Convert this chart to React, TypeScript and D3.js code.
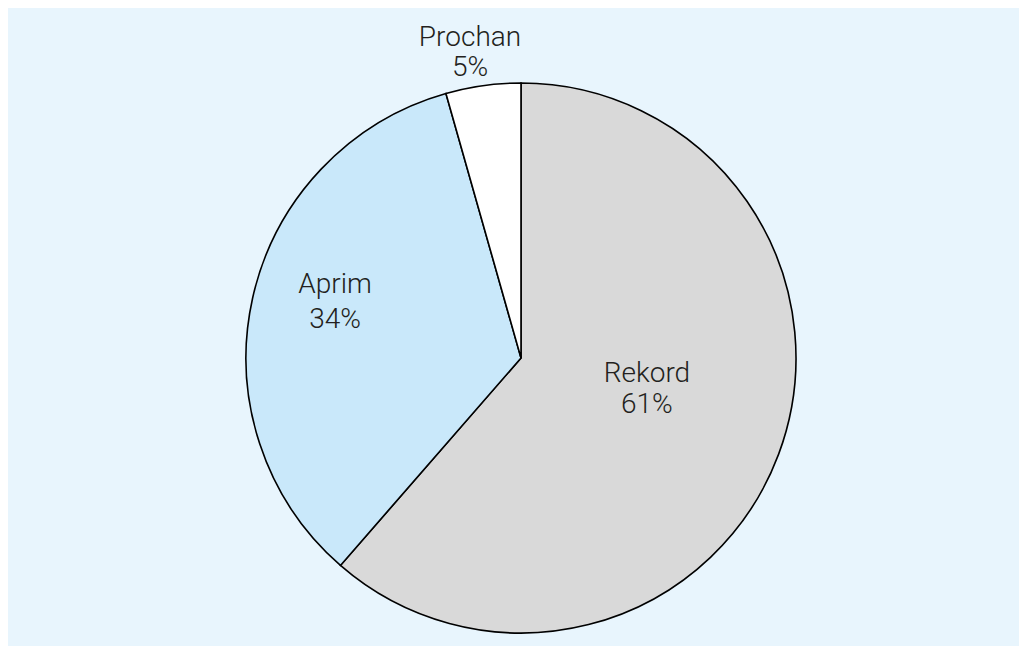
import React from "react";
import * as d3 from "d3";

const categories = ["Rekord", "Aprim", "Prochan"];
const values = [61.4, 34.2, 4.4];
const percentLabels = ["61%", "34%", "5%"];
const colors = ["#d9d9d9", "#c9e8fa", "#ffffff"];

// label layout: radius fraction, pixel offsets, first-line offset and line gap
const labelLayout = [
  { r: 0.489, dx: 0, dy1: -23.4, gap: 31.6 },
  { r: 0.693, dx: 0, dy1: -23.1, gap: 35 },
  { r: 1.098, dx: -9.4, dy1: -13, gap: 30 },
];

const W = 1019;
const H = 638;
const CX = 513;
const CY = 350;
const R = 275;

export default function App() {
  React.useEffect(() => {
    document.documentElement.style.overflow = "hidden";
  }, []);
  const pie = d3
    .pie<number>()
    .sort(null)
    .value((d) => d)
    .startAngle(0)
    .endAngle(2 * Math.PI);
  const arcs = pie(values);
  const arc = d3.arc<d3.PieArcDatum<number>>().innerRadius(0).outerRadius(R);
  return (
    <svg width={W} height={H} style={{ display: "block" }}>
      <rect x={0} y={0} width={W} height={H} fill="#e8f5fd" />
      <g transform={`translate(${CX},${CY})`}>
        {arcs.map((a, i) => (
          <path
            key={i}
            d={arc(a) || ""}
            fill={colors[i]}
            stroke="#000"
            strokeWidth={1.6}
            strokeLinejoin="miter"
          />
        ))}
        {arcs.map((a, i) => {
          const mid = (a.startAngle + a.endAngle) / 2;
          const L = labelLayout[i];
          const lr = L.r * R;
          const x = Math.sin(mid) * lr + L.dx;
          const y = -Math.cos(mid) * lr;
          return (
            <g key={"t" + i}>
              <text
                x={x}
                y={y + L.dy1}
                textAnchor="middle"
                fontFamily="Roboto, 'Liberation Sans', sans-serif"
                fontWeight={300}
                fontSize={28}
                fill="#231f20"
              >
                {categories[i]}
              </text>
              <text
                x={x}
                y={y + L.dy1 + L.gap}
                textAnchor="middle"
                fontFamily="Roboto, 'Liberation Sans', sans-serif"
                fontWeight={300}
                fontSize={28}
                fill="#231f20"
              >
                {percentLabels[i]}
              </text>
            </g>
          );
        })}
      </g>
    </svg>
  );
}
